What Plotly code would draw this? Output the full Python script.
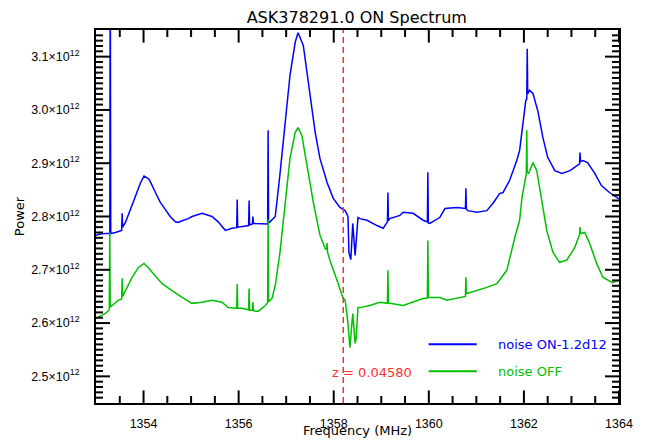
import plotly.graph_objects as go

# ---- data (power in units of 1e12) ----
freq_on = [1353.00, 1353.09, 1353.20, 1353.28, 1353.29, 1353.30, 1353.31, 1353.41, 1353.50, 1353.54, 1353.55, 1353.56,
           1353.62, 1353.72, 1353.83, 1353.93, 1354.01, 1354.10, 1354.14, 1354.25, 1354.35, 1354.46, 1354.56, 1354.67,
           1354.73, 1354.81, 1354.94, 1355.02, 1355.23, 1355.44, 1355.57, 1355.72, 1355.86, 1355.96, 1355.97, 1355.98,
           1356.07, 1356.21, 1356.22, 1356.23, 1356.29, 1356.30, 1356.31, 1356.49, 1356.61, 1356.62, 1356.63, 1356.66,
           1356.77, 1356.87, 1356.98, 1357.08, 1357.19, 1357.25, 1357.36, 1357.50, 1357.61, 1357.71, 1357.86, 1357.99,
           1358.13, 1358.24, 1358.30, 1358.32, 1358.36, 1358.40, 1358.45, 1358.47, 1358.51, 1358.55, 1358.70, 1358.91,
           1359.04, 1359.13, 1359.14, 1359.15, 1359.18, 1359.39, 1359.46, 1359.67, 1359.88, 1359.97, 1359.98, 1359.99,
           1360.02, 1360.23, 1360.34, 1360.59, 1360.77, 1360.78, 1360.79, 1360.82, 1361.01, 1361.22, 1361.35, 1361.49,
           1361.56, 1361.70, 1361.85, 1361.91, 1361.98, 1362.04, 1362.06, 1362.07, 1362.08, 1362.12, 1362.19, 1362.29,
           1362.40, 1362.50, 1362.65, 1362.80, 1362.97, 1363.12, 1363.17, 1363.18, 1363.19, 1363.24, 1363.34, 1363.49,
           1363.63, 1363.80, 1363.97, 1364.00]
power_on = [2.765, 2.767, 2.768, 2.768, 2.768, 3.300, 2.768, 2.770, 2.772, 2.774, 2.806, 2.780,
            2.789, 2.811, 2.838, 2.862, 2.876, 2.871, 2.866, 2.845, 2.827, 2.813, 2.800, 2.790,
            2.789, 2.792, 2.796, 2.800, 2.806, 2.800, 2.790, 2.774, 2.778, 2.779, 2.832, 2.780,
            2.781, 2.783, 2.830, 2.784, 2.786, 2.800, 2.787, 2.787, 2.786, 2.962, 2.788, 2.790,
            2.800, 2.880, 2.971, 3.065, 3.127, 3.145, 3.121, 3.033, 2.958, 2.909, 2.864, 2.834,
            2.817, 2.811, 2.800, 2.732, 2.719, 2.787, 2.727, 2.750, 2.798, 2.796, 2.793, 2.783,
            2.778, 2.790, 2.845, 2.792, 2.796, 2.802, 2.808, 2.806, 2.793, 2.790, 2.883, 2.788,
            2.787, 2.798, 2.815, 2.817, 2.815, 2.853, 2.814, 2.811, 2.808, 2.811, 2.825, 2.843,
            2.845, 2.868, 2.905, 2.924, 2.980, 3.018, 3.020, 3.115, 3.030, 3.037, 3.031, 2.999,
            2.948, 2.911, 2.886, 2.881, 2.886, 2.896, 2.899, 2.920, 2.903, 2.905, 2.901, 2.881,
            2.858, 2.845, 2.834, 2.833]

freq_off = [1353.00, 1353.20, 1353.27, 1353.28, 1353.29, 1353.30, 1353.34, 1353.47, 1353.54, 1353.55, 1353.56, 1353.62,
            1353.76, 1353.89, 1354.01, 1354.10, 1354.25, 1354.39, 1354.60, 1354.81, 1355.02, 1355.23, 1355.44, 1355.65,
            1355.78, 1355.96, 1355.97, 1355.98, 1356.07, 1356.21, 1356.22, 1356.23, 1356.29, 1356.30, 1356.31, 1356.41,
            1356.56, 1356.61, 1356.62, 1356.63, 1356.70, 1356.77, 1356.87, 1356.98, 1357.08, 1357.19, 1357.25, 1357.33,
            1357.44, 1357.57, 1357.71, 1357.82, 1357.85, 1357.86, 1357.87, 1357.92, 1358.07, 1358.19, 1358.24, 1358.30,
            1358.34, 1358.38, 1358.40, 1358.45, 1358.47, 1358.51, 1358.55, 1358.76, 1358.97, 1359.13, 1359.14, 1359.15,
            1359.18, 1359.46, 1359.67, 1359.88, 1359.97, 1359.98, 1359.99, 1360.02, 1360.23, 1360.38, 1360.59, 1360.77,
            1360.78, 1360.79, 1360.82, 1361.01, 1361.22, 1361.43, 1361.64, 1361.81, 1361.91, 1361.96, 1362.04, 1362.05,
            1362.06, 1362.07, 1362.10, 1362.19, 1362.27, 1362.38, 1362.48, 1362.61, 1362.75, 1362.90, 1363.07, 1363.17,
            1363.18, 1363.19, 1363.28, 1363.38, 1363.53, 1363.66, 1363.86, 1363.97, 1364.00]
power_off = [2.609, 2.618, 2.624, 2.625, 2.770, 2.630, 2.633, 2.643, 2.645, 2.684, 2.650, 2.661,
             2.686, 2.704, 2.712, 2.704, 2.689, 2.674, 2.661, 2.648, 2.637, 2.639, 2.643, 2.639,
             2.629, 2.628, 2.674, 2.628, 2.628, 2.625, 2.665, 2.624, 2.624, 2.639, 2.623, 2.622,
             2.633, 2.638, 2.795, 2.640, 2.646, 2.671, 2.733, 2.821, 2.909, 2.958, 2.967, 2.952,
             2.896, 2.827, 2.765, 2.740, 2.738, 2.750, 2.733, 2.718, 2.680, 2.648, 2.643, 2.599,
             2.554, 2.611, 2.618, 2.562, 2.570, 2.629, 2.629, 2.633, 2.639, 2.637, 2.699, 2.637,
             2.637, 2.633, 2.639, 2.646, 2.647, 2.755, 2.648, 2.648, 2.648, 2.643, 2.646, 2.650,
             2.686, 2.655, 2.656, 2.661, 2.667, 2.674, 2.699, 2.761, 2.793, 2.836, 2.878, 2.880,
             2.962, 2.882, 2.881, 2.901, 2.886, 2.830, 2.774, 2.733, 2.714, 2.718, 2.742, 2.766,
             2.780, 2.768, 2.770, 2.750, 2.712, 2.686, 2.676, 2.680, 2.680]

redshift = 0.04580
hi_rest_mhz = 1420.405751768
y_ticks = [2.5, 2.6, 2.7, 2.8, 2.9, 3.0, 3.1]
y_ticktext = ["2.5×10<sup>12</sup>", "2.6×10<sup>12</sup>", "2.7×10<sup>12</sup>", "2.8×10<sup>12</sup>",
              "2.9×10<sup>12</sup>", "3.0×10<sup>12</sup>", "3.1×10<sup>12</sup>"]
x_ticks = [1354, 1356, 1358, 1360, 1362, 1364]
series_names = ["noise ON-1.2d12", "noise OFF"]

SCALE = 1e12
X_RANGE = [1353, 1364]
Y_RANGE = [2.45, 3.15]
X_MINOR_STEP = 0.5
Y_MINOR_STEP = 0.01
BLUE = "#0000ff"
GREEN = "#00c000"
RED = "#ff3030"
FONT = "DejaVu Sans"
TFONT = "Liberation Sans"

fig = go.Figure()
fig.add_trace(go.Scatter(x=freq_on, y=[v * SCALE for v in power_on], mode="lines",
                         line=dict(color=BLUE, width=1.5), name=series_names[0], showlegend=False))
fig.add_trace(go.Scatter(x=freq_off, y=[v * SCALE for v in power_off], mode="lines",
                         line=dict(color=GREEN, width=1.5), name=series_names[1], showlegend=False))

# inside tick marks on all four sides: line markers centred on the frame edges, clipped to the plot area
n_xm = int(round((X_RANGE[1] - X_RANGE[0]) / X_MINOR_STEP))
x_minor = [round(X_RANGE[0] + k * X_MINOR_STEP, 3) for k in range(1, n_xm)]
x_minor = [v for v in x_minor if v not in x_ticks]
n_ym = int(round((Y_RANGE[1] - Y_RANGE[0]) / Y_MINOR_STEP))
y_minor = [round(Y_RANGE[0] + k * Y_MINOR_STEP, 3) for k in range(1, n_ym)]
y_minor = [v for v in y_minor if all(abs(v - t) > 1e-6 for t in y_ticks)]


def tick_trace(xs, ys, symbol, size):
    return go.Scatter(x=xs, y=ys, mode="markers", cliponaxis=True, showlegend=False, hoverinfo="skip",
                      marker=dict(symbol=symbol, size=size, color="black", line=dict(width=2, color="black")))


for edge in Y_RANGE:
    fig.add_trace(tick_trace(x_ticks, [edge * SCALE] * len(x_ticks), "line-ns", 18))
    fig.add_trace(tick_trace(x_minor, [edge * SCALE] * len(x_minor), "line-ns", 10))
for edge in X_RANGE:
    fig.add_trace(tick_trace([edge] * len(y_ticks), [v * SCALE for v in y_ticks], "line-ew", 20))
    fig.add_trace(tick_trace([edge] * len(y_minor), [v * SCALE for v in y_minor], "line-ew", 10))

f_obs = hi_rest_mhz / (1 + redshift)
fig.add_shape(type="line", xref="x", yref="paper", x0=f_obs, x1=f_obs, y0=0, y1=1,
              line=dict(color=RED, width=1.5, dash="6px,4px"))
fig.add_annotation(x=0.447, y=0.083, xref="paper", yref="paper", xanchor="left", yanchor="middle",
                   text="z = %.5f" % redshift, showarrow=False, font=dict(color=RED, size=13, family=FONT))

# legend drawn as lines + labels
for i, (nm, col) in enumerate(zip(series_names, [BLUE, GREEN])):
    yy = 0.1575 - i * 0.0725
    fig.add_shape(type="line", xref="paper", yref="paper", x0=0.636, x1=0.728, y0=yy, y1=yy,
                  line=dict(color=col, width=2))
    fig.add_annotation(x=0.764, y=yy, xref="paper", yref="paper", xanchor="left", yanchor="middle",
                       text=nm, showarrow=False, font=dict(color=col, size=13, family=FONT))

fig.update_layout(
    xaxis=dict(range=X_RANGE, tickmode="array", tickvals=x_ticks, ticks="", showline=True, linecolor="black",
               linewidth=2, mirror=True, showgrid=False, zeroline=False, automargin=False, ticklabelstandoff=8,
               tickfont=dict(size=12.5, family=TFONT, color="black"),
               title=dict(text="Frequency (MHz)", font=dict(size=13, family=FONT, color="black"), standoff=8)),
    yaxis=dict(range=[v * SCALE for v in Y_RANGE], tickmode="array", tickvals=[v * SCALE for v in y_ticks],
               ticktext=y_ticktext, ticks="", showline=True, linecolor="black", linewidth=2, mirror=True,
               showgrid=False, zeroline=False, automargin=False, ticklabelstandoff=12,
               tickfont=dict(size=12.5, family=TFONT, color="black"),
               title=dict(text="Power", font=dict(size=13, family=FONT, color="black"), standoff=4)),
    # page body adds an 8px margin around the figure: compensate in size/margins
    width=633, height=430, margin=dict(l=88, r=21.5, t=22, b=35.3),
    paper_bgcolor="white", plot_bgcolor="white",
    title=dict(text="ASK378291.0 ON Spectrum", x=0.551, xanchor="center", y=0.977, yanchor="middle",
               font=dict(size=16, family=FONT, color="black")),
    font=dict(family=FONT))
fig.write_html("out.html")
